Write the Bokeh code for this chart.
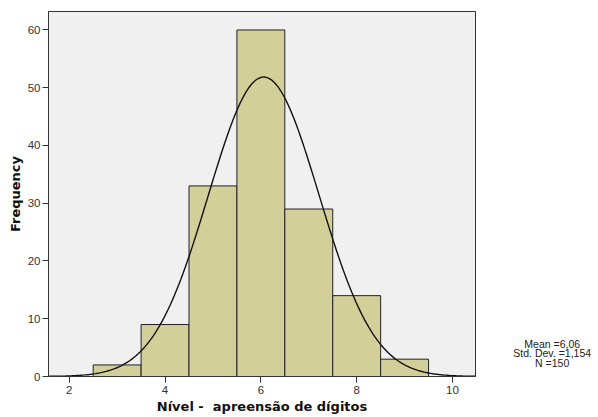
import math
from bokeh.plotting import figure
from bokeh.models import Range1d, FixedTicker
from bokeh.layouts import row
from bokeh.core.properties import value
from bokeh.embed import file_html
from bokeh.resources import INLINE

# Data
bin_centers = [3, 4, 5, 6, 7, 8, 9]
frequencies = [2, 9, 33, 60, 29, 14, 3]
x_ticks = [2, 4, 6, 8, 10]
y_ticks = [0, 10, 20, 30, 40, 50, 60]
mean_val = 6.06
std_val = 1.154
n_val = 150
bin_width = 1.0
stats_lines = ["Mean =6,06", "Std. Dev. =1,154", "N =150"]

x_min, x_max = 1.567, 10.48
y_min, y_max = 0, 63.2

p = figure(width=476, height=417, output_backend="svg", toolbar_location=None,
           x_range=Range1d(x_min, x_max), y_range=Range1d(y_min, y_max),
           min_border_left=48, min_border_right=1, min_border_top=11, min_border_bottom=41)

p.background_fill_color = "#F0F0F0"
p.border_fill_color = "white"
p.outline_line_color = "#333333"
p.outline_line_width = 1
p.grid.visible = False

lefts = [c - bin_width / 2 for c in bin_centers]
rights = [c + bin_width / 2 for c in bin_centers]
p.quad(left=lefts, right=rights, bottom=0, top=frequencies,
       fill_color="#D3CF99", line_color="#222222", line_width=1)

# Fitted normal curve from the stated mean / std. dev.
steps = 200
xs = [x_min + (x_max - x_min) * i / steps for i in range(steps + 1)]
ys = [n_val * bin_width / (std_val * math.sqrt(2 * math.pi)) *
      math.exp(-0.5 * ((x - mean_val) / std_val) ** 2) for x in xs]
p.line(xs, ys, line_color="#111111", line_width=1.4)

for ax in (p.xaxis, p.yaxis):
    ax.axis_line_color = "#333333"
    ax.major_tick_line_color = "#333333"
    ax.major_tick_in = 0
    ax.major_tick_out = 6
    ax.minor_tick_line_color = None
    ax.major_label_text_font = "Liberation Sans"
    ax.major_label_text_font_size = "11.5px"
    ax.major_label_text_color = "#333333"
    ax.axis_label_text_font = "DejaVu Sans"
    ax.axis_label_text_font_style = "bold"
    ax.axis_label_text_font_size = "13px"
    ax.axis_label_text_color = "#111111"

p.xaxis.ticker = FixedTicker(ticks=x_ticks)
p.yaxis.ticker = FixedTicker(ticks=y_ticks)
p.xaxis.major_label_standoff = 3
p.yaxis.major_label_standoff = 2
p.xaxis.axis_label = "Nível -\u00a0 apreensão de dígitos"
p.yaxis.axis_label = "Frequency"
p.xaxis.axis_label_standoff = 2
p.yaxis.axis_label_standoff = 2

# Side panel with the statistics text (same vertical frame as the chart)
s = figure(width=122, height=417, output_backend="svg", toolbar_location=None,
           x_range=Range1d(0, 122), y_range=Range1d(y_min, y_max),
           min_border_left=0, min_border_right=0, min_border_top=11, min_border_bottom=41,
           x_axis_type=None, y_axis_type=None)
s.outline_line_color = None
s.grid.visible = False
s.background_fill_color = "white"
s.border_fill_color = "white"
px_per_unit = (376 - 11) / (y_max - y_min)
line_y = [(376 - yp) / px_per_unit for yp in (343.0, 352.6, 362.0)]
s.text(x=[551.7 - 476] * 3, y=line_y, text=stats_lines, text_align="center",
       text_baseline="middle", text_font=value("Liberation Sans"),
       text_font_size="10.5px", text_color="#222222")

layout = row(p, s)
open("out.html", "w").write(file_html(layout, INLINE))
